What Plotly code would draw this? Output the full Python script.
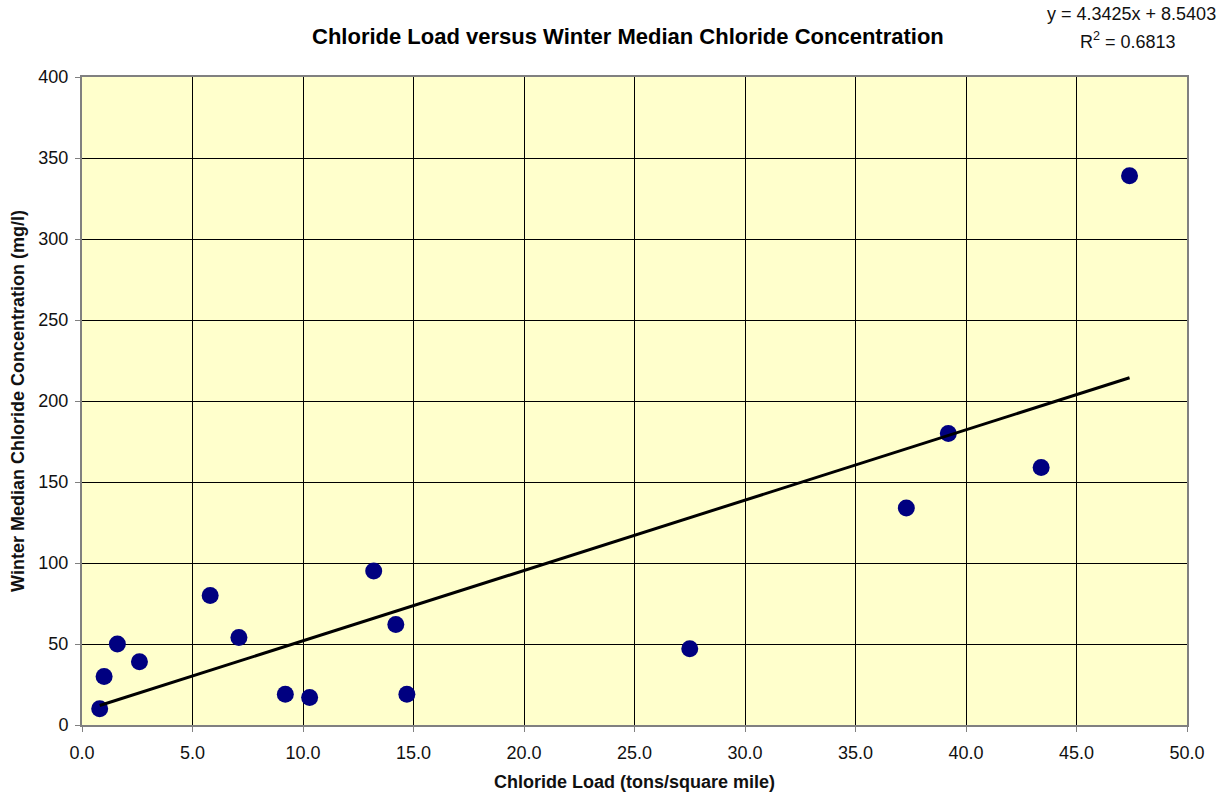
import plotly.graph_objects as go

load = [0.8, 1.0, 1.6, 2.6, 5.8, 7.1, 9.2, 10.3, 13.2, 14.2, 14.7, 27.5, 37.3, 39.2, 43.4, 47.4]
conc = [10, 30, 50, 39, 80, 54, 19, 17, 95, 62, 19, 47, 134, 180, 159, 339]
slope = 4.3425
intercept = 8.5403
r2 = 0.6813

x_trend = [min(load), max(load)]
y_trend = [slope * v + intercept for v in x_trend]

fig = go.Figure()
fig.add_trace(go.Scatter(x=load, y=conc, mode="markers",
                         marker=dict(color="#000080", size=17, line=dict(width=0)),
                         showlegend=False, cliponaxis=False))
fig.add_trace(go.Scatter(x=x_trend, y=y_trend, mode="lines",
                         line=dict(color="black", width=3), showlegend=False))

font_family = "Liberation Sans, Arial, sans-serif"
L, R, T, B = 82, 38, 77, 74
W, H = 1225, 799
pw, ph = W - L - R, H - T - B


def px(xp):
    return (xp - L) / pw


def py(yp):
    return (H - B - yp) / ph


fig.update_layout(
    width=W, height=H,
    margin=dict(l=L, r=R, t=T, b=B, autoexpand=False),
    paper_bgcolor="white", plot_bgcolor="#FFFFCC",
    font=dict(family=font_family, size=18, color="#111"),
    xaxis=dict(range=[0, 50], dtick=5, tickformat=".1f", showgrid=True, gridcolor="black",
               gridwidth=1, zeroline=False, showline=True, linecolor="#808080", linewidth=2,
               mirror=True, ticks="outside", ticklen=5, tickcolor="#808080",
               tickfont=dict(size=18), ticklabelstandoff=5, automargin=False,
               title=dict(text="<b>Chloride Load (tons/square mile)</b>", font=dict(size=18), standoff=14)),
    yaxis=dict(range=[0, 400], dtick=50, showgrid=True, gridcolor="black", gridwidth=1,
               zeroline=False, showline=True, linecolor="#808080", linewidth=2, mirror=True,
               ticks="outside", ticklen=5, tickcolor="#808080",
               tickfont=dict(size=18), ticklabelstandoff=3, automargin=False,
               title=dict(text="<b>Winter Median Chloride Concentration (mg/l)</b>", font=dict(size=18), standoff=9)),
    annotations=[
        dict(text="<b>Chloride Load versus Winter Median Chloride Concentration</b>",
             x=px(628), y=py(36), xref="paper", yref="paper",
             showarrow=False, font=dict(size=22, color="black"), xanchor="center", yanchor="middle"),
        dict(text=f"y = {slope}x + {intercept}",
             x=px(1218), y=py(14), xref="paper", yref="paper",
             showarrow=False, font=dict(size=18), xanchor="right", yanchor="middle"),
        dict(text=f"R<sup>2</sup> = {r2}",
             x=px(1128), y=py(41), xref="paper", yref="paper",
             showarrow=False, font=dict(size=18), xanchor="center", yanchor="middle"),
    ],
)
fig.write_html("out.html")
